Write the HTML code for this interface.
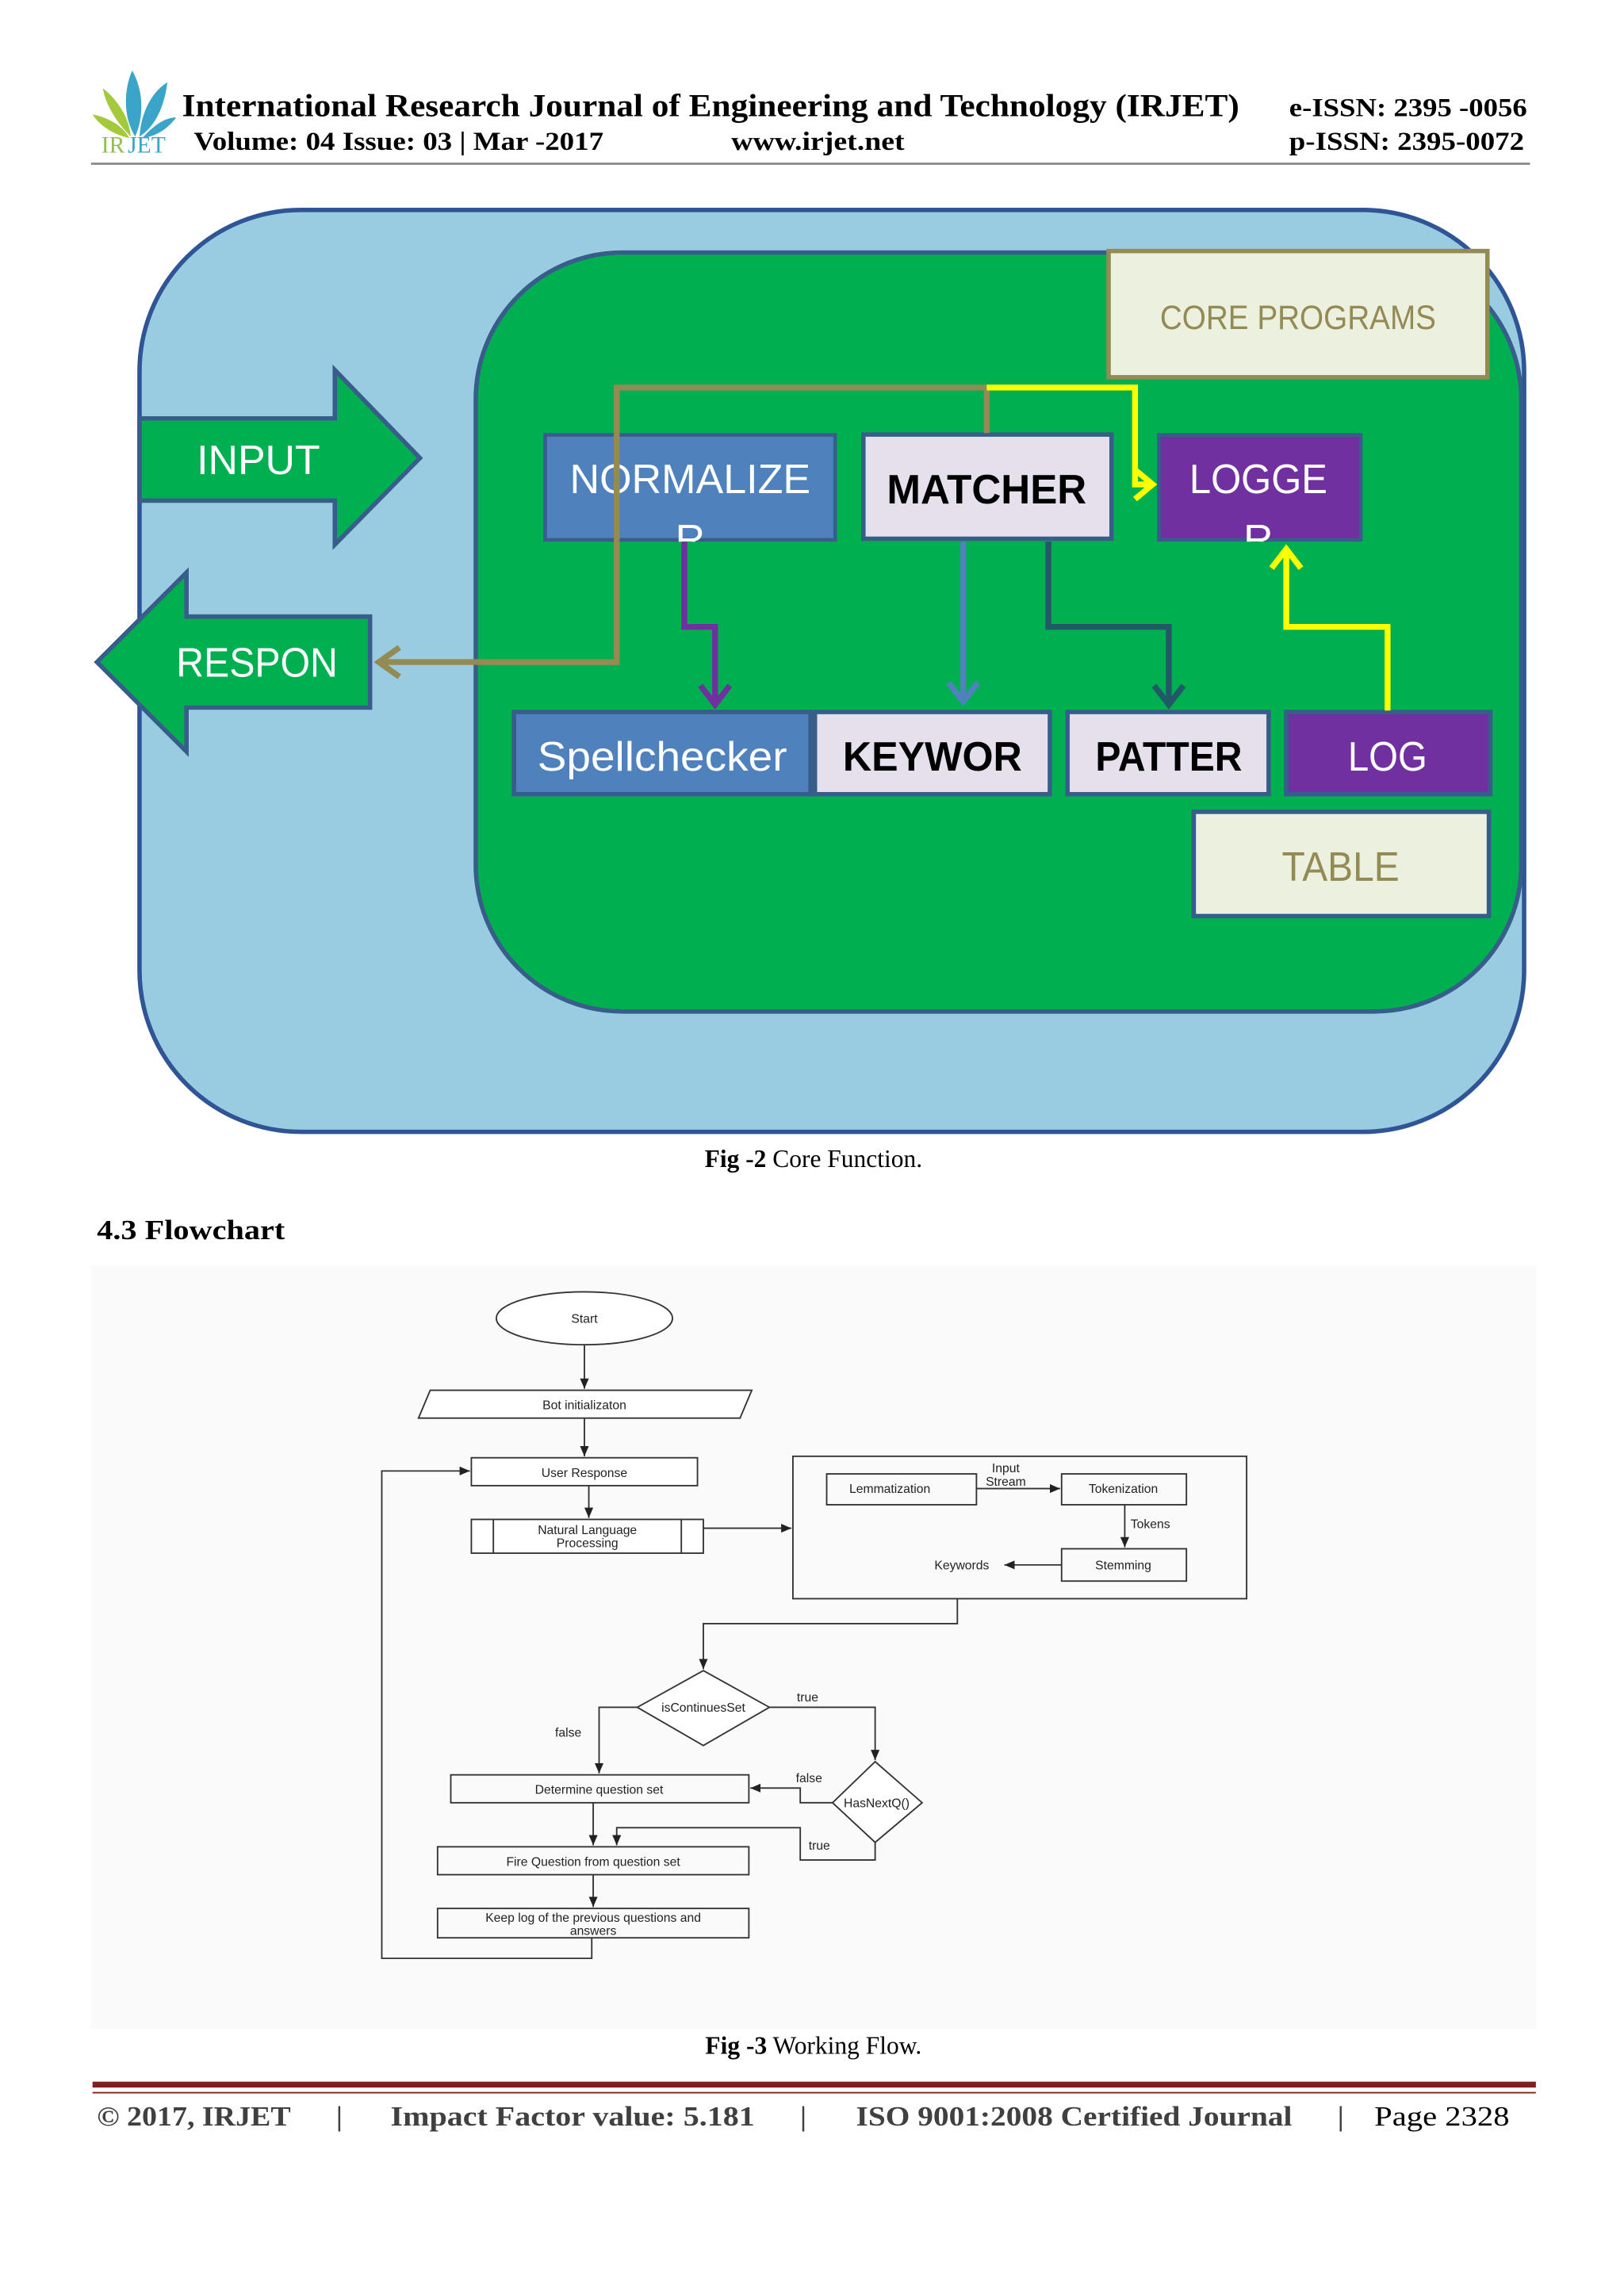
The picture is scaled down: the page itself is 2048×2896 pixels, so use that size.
<!DOCTYPE html>
<html><head><meta charset="utf-8"><style>
html,body{margin:0;padding:0;background:#fff}
svg{display:block}
.s{font-family:"Liberation Serif",serif}
.a{font-family:"Liberation Sans",sans-serif}
</style></head><body>
<svg width="2048" height="2896" viewBox="0 0 1106 1564" xmlns="http://www.w3.org/2000/svg">
<defs>
<marker id="fa" markerWidth="8" markerHeight="8" refX="7" refY="4" orient="auto" markerUnits="userSpaceOnUse"><path d="M0,1 L7,4 L0,7 z" fill="#222"/></marker>
</defs>
<rect width="1106" height="1564" fill="#fff"/>
<rect x="62" y="862" width="984" height="520" fill="#fafafa"/>
<!-- logo -->
<g>
<path d="M92,93 C84,80 84,62 90,48 C98,62 98,80 92,93z" fill="#3aa5c8"/>
<path d="M95,93 C96,76 104,62 114,56 C112,72 106,86 95,93z" fill="#3aa5c8"/>
<path d="M89,93 C80,84 72,72 70,60 C80,68 88,80 89,93z" fill="#a4c93c"/>
<path d="M88,94 C78,92 68,86 63,78 C74,80 84,86 88,94z" fill="#a4c93c"/>
<path d="M97,94 C104,86 112,80 120,80 C114,88 106,93 97,94z" fill="#3aa5c8"/>
<text x="69" y="104" class="s" font-size="16" fill="#8fc050">IR</text><text x="87" y="104" class="s" font-size="16" fill="#3aa5c8">JET</text>
</g>
<text x="124" y="79" class="s" font-size="21.5" font-weight="bold" textLength="720" lengthAdjust="spacingAndGlyphs">International Research Journal of Engineering and Technology (IRJET)</text>
<text x="132" y="102" class="s" font-size="17.5" font-weight="bold" textLength="279" lengthAdjust="spacingAndGlyphs">Volume: 04 Issue: 03 | Mar -2017</text>
<text x="498" y="102" class="s" font-size="17.5" font-weight="bold" textLength="118" lengthAdjust="spacingAndGlyphs">www.irjet.net</text>
<text x="878" y="79" class="s" font-size="17.5" font-weight="bold" textLength="162" lengthAdjust="spacingAndGlyphs">e-ISSN: 2395 -0056</text>
<text x="878" y="102" class="s" font-size="17.5" font-weight="bold" textLength="160" lengthAdjust="spacingAndGlyphs">p-ISSN: 2395-0072</text>
<line x1="62" y1="111.5" x2="1042" y2="111.5" stroke="#888" stroke-width="1.5"/>

<!-- Fig 2 -->
<rect x="95" y="143" width="943" height="628" rx="110" fill="#99cce0" stroke="#2f5597" stroke-width="3"/>
<rect x="324" y="172" width="712" height="517" rx="100" fill="#00b050" stroke="#385d8a" stroke-width="3"/>
<rect x="755" y="171" width="258" height="86" fill="#ebf1de" stroke="#948a54" stroke-width="3"/>
<text x="884" y="224" text-anchor="middle" class="a" font-size="23" fill="#948a54" textLength="188" lengthAdjust="spacingAndGlyphs">CORE PROGRAMS</text>
<polygon points="95,285 228,285 228,252 286,312 228,371 228,341 95,341" fill="#00b050" stroke="#385d8a" stroke-width="3"/>
<text x="176" y="323" text-anchor="middle" class="a" font-size="28" fill="#fff" textLength="84" lengthAdjust="spacingAndGlyphs">INPUT</text>
<polygon points="66,451 127,390 127,420 252,420 252,482 127,482 127,512" fill="#00b050" stroke="#385d8a" stroke-width="3"/>
<text x="175" y="461" text-anchor="middle" class="a" font-size="28" fill="#fff" textLength="110" lengthAdjust="spacingAndGlyphs">RESPON</text>
<svg x="370" y="295" width="200" height="74" overflow="hidden"><rect x="1" y="1" width="198" height="72" fill="#4f81bd" stroke="#385d8a" stroke-width="3"/>
<text x="100" y="41" text-anchor="middle" class="a" font-size="28" fill="#fff" textLength="164" lengthAdjust="spacingAndGlyphs">NORMALIZE</text><text x="100" y="82" text-anchor="middle" class="a" font-size="28" fill="#fff">R</text></svg>
<rect x="588" y="296" width="169" height="71" fill="#e6e0ec" stroke="#385d8a" stroke-width="3"/>
<text x="672" y="343" text-anchor="middle" class="a" font-size="28" font-weight="bold" fill="#000" textLength="136" lengthAdjust="spacingAndGlyphs">MATCHER</text>
<svg x="788" y="295" width="140" height="74" overflow="hidden"><rect x="1" y="1" width="138" height="72" fill="#7030a0" stroke="#385d8a" stroke-width="3"/>
<text x="69" y="41" text-anchor="middle" class="a" font-size="28" fill="#fff" textLength="94" lengthAdjust="spacingAndGlyphs">LOGGE</text><text x="69" y="82" text-anchor="middle" class="a" font-size="28" fill="#fff">R</text></svg>
<rect x="350" y="485" width="202" height="56" fill="#4f81bd" stroke="#385d8a" stroke-width="3"/>
<text x="451" y="525" text-anchor="middle" class="a" font-size="28" fill="#fff" textLength="170" lengthAdjust="spacingAndGlyphs">Spellchecker</text>
<rect x="555" y="485" width="160" height="56" fill="#e6e0ec" stroke="#385d8a" stroke-width="3"/>
<text x="635" y="525" text-anchor="middle" class="a" font-size="28" font-weight="bold" textLength="122" lengthAdjust="spacingAndGlyphs">KEYWOR</text>
<rect x="727" y="485" width="137" height="56" fill="#e6e0ec" stroke="#385d8a" stroke-width="3"/>
<text x="796" y="525" text-anchor="middle" class="a" font-size="28" font-weight="bold" textLength="100" lengthAdjust="spacingAndGlyphs">PATTER</text>
<rect x="876" y="485" width="139" height="56" fill="#7030a0" stroke="#385d8a" stroke-width="3"/>
<text x="945" y="525" text-anchor="middle" class="a" font-size="28" fill="#fff" textLength="54" lengthAdjust="spacingAndGlyphs">LOG</text>
<rect x="813" y="553" width="201" height="71" fill="#ebf1de" stroke="#385d8a" stroke-width="3"/>
<text x="913" y="600" text-anchor="middle" class="a" font-size="28" fill="#948a54" textLength="80" lengthAdjust="spacingAndGlyphs">TABLE</text>
<!-- connectors -->
<polyline points="672,295 672,264 420,264 420,451 258,451" fill="none" stroke="#948a54" stroke-width="4"/>
<polyline points="272,441 258,451 272,461" fill="none" stroke="#948a54" stroke-width="4"/>
<polyline points="672,264 773,264 773,330 784,330" fill="none" stroke="#ffff00" stroke-width="4"/>
<polyline points="773,320 785,330 773,340" fill="none" stroke="#ffff00" stroke-width="4"/>
<polyline points="466,369 466,427 487,427 487,480" fill="none" stroke="#7030a0" stroke-width="4"/>
<polyline points="477,467 487,480 497,467" fill="none" stroke="#7030a0" stroke-width="4"/>
<line x1="656" y1="369" x2="656" y2="478" stroke="#4f81bd" stroke-width="4"/>
<polyline points="646,465 656,478 666,465" fill="none" stroke="#4f81bd" stroke-width="4"/>
<polyline points="714,369 714,427 796,427 796,480" fill="none" stroke="#215968" stroke-width="4"/>
<polyline points="786,467 796,480 806,467" fill="none" stroke="#215968" stroke-width="4"/>
<polyline points="945,484 945,427 876,427 876,374" fill="none" stroke="#ffff00" stroke-width="4"/>
<polyline points="866,387 876,374 886,387" fill="none" stroke="#ffff00" stroke-width="4"/>
<text x="554" y="795" text-anchor="middle" class="s" font-size="17"><tspan font-weight="bold">Fig -2</tspan> Core Function.</text>
<text x="66" y="844" class="s" font-size="19" font-weight="bold" textLength="128" lengthAdjust="spacingAndGlyphs">4.3 Flowchart</text>

<!-- flowchart -->
<g class="a" font-size="8.5" fill="#222" stroke-width="1">
<g fill="none" stroke="#333">
<ellipse cx="398" cy="898" rx="60" ry="18" fill="#fff"/>
<polygon points="293,947 512,947 504,966 285,966" fill="#fff"/>
<rect x="321" y="993" width="154" height="19" fill="#fff"/>
<rect x="321" y="1035" width="158" height="23" fill="#fff"/>
<line x1="336" y1="1035" x2="336" y2="1058"/><line x1="464" y1="1035" x2="464" y2="1058"/>
<rect x="540" y="992" width="309" height="97"/>
<rect x="563" y="1004" width="102" height="21"/>
<rect x="723" y="1004" width="85" height="21"/>
<rect x="723" y="1055" width="85" height="22"/>
<polygon points="479,1138 524,1163 479,1189 434,1163" fill="#fff"/>
<polygon points="596,1200 628,1228 596,1255 567,1228" fill="#fff"/>
<rect x="307" y="1209" width="203" height="19"/>
<rect x="298" y="1258" width="212" height="19"/>
<rect x="298" y="1300" width="212" height="20"/>
<line x1="398" y1="916" x2="398" y2="946" marker-end="url(#fa)"/>
<line x1="398" y1="966" x2="398" y2="992" marker-end="url(#fa)"/>
<line x1="401" y1="1012" x2="401" y2="1034" marker-end="url(#fa)"/>
<line x1="479" y1="1041" x2="539" y2="1041" marker-end="url(#fa)"/>
<line x1="665" y1="1014" x2="722" y2="1014" marker-end="url(#fa)"/>
<line x1="766" y1="1025" x2="766" y2="1054" marker-end="url(#fa)"/>
<line x1="723" y1="1066" x2="684" y2="1066" marker-end="url(#fa)"/>
<polyline points="652,1089 652,1106 479,1106 479,1137" marker-end="url(#fa)"/>
<polyline points="524,1163 596,1163 596,1199" marker-end="url(#fa)"/>
<polyline points="434,1163 408,1163 408,1208" marker-end="url(#fa)"/>
<polyline points="567,1228 545,1228 545,1218 511,1218" marker-end="url(#fa)"/>
<line x1="404" y1="1228" x2="404" y2="1257" marker-end="url(#fa)"/>
<polyline points="596,1255 596,1267 545,1267 545,1245 420,1245 420,1257" marker-end="url(#fa)"/>
<line x1="404" y1="1277" x2="404" y2="1299" marker-end="url(#fa)"/>
<polyline points="403,1320 403,1334 260,1334 260,1002 320,1002" marker-end="url(#fa)"/>
</g>
<text x="398" y="901" text-anchor="middle">Start</text>
<text x="398" y="960" text-anchor="middle">Bot initializaton</text>
<text x="398" y="1006" text-anchor="middle">User Response</text>
<text x="400" y="1045" text-anchor="middle">Natural Language</text>
<text x="400" y="1054" text-anchor="middle">Processing</text>
<text x="606" y="1017" text-anchor="middle">Lemmatization</text>
<text x="685" y="1003" text-anchor="middle">Input</text>
<text x="685" y="1012" text-anchor="middle">Stream</text>
<text x="765" y="1017" text-anchor="middle">Tokenization</text>
<text x="770" y="1041">Tokens</text>
<text x="765" y="1069" text-anchor="middle">Stemming</text>
<text x="655" y="1069" text-anchor="middle">Keywords</text>
<text x="479" y="1166" text-anchor="middle">isContinuesSet</text>
<text x="550" y="1159" text-anchor="middle">true</text>
<text x="387" y="1183" text-anchor="middle">false</text>
<text x="551" y="1214" text-anchor="middle">false</text>
<text x="597" y="1231" text-anchor="middle">HasNextQ()</text>
<text x="408" y="1222" text-anchor="middle">Determine question set</text>
<text x="558" y="1260" text-anchor="middle">true</text>
<text x="404" y="1271" text-anchor="middle">Fire Question from question set</text>
<text x="404" y="1309" text-anchor="middle">Keep log of the previous questions and</text>
<text x="404" y="1318" text-anchor="middle">answers</text>
</g>
<text x="554" y="1399" text-anchor="middle" class="s" font-size="17"><tspan font-weight="bold">Fig -3</tspan> Working Flow.</text>
<!-- footer -->
<rect x="63" y="1418" width="983" height="4" fill="#7f1f1f"/>
<line x1="63" y1="1425.5" x2="1046" y2="1425.5" stroke="#7f1f1f" stroke-width="1"/>
<text x="66" y="1448" class="s" font-size="19" font-weight="bold" fill="#404040" textLength="132" lengthAdjust="spacingAndGlyphs">© 2017, IRJET</text>
<text x="229" y="1448" class="s" font-size="19" font-weight="bold" fill="#404040">|</text>
<text x="266" y="1448" class="s" font-size="19" font-weight="bold" fill="#404040" textLength="248" lengthAdjust="spacingAndGlyphs">Impact Factor value: 5.181</text>
<text x="545" y="1448" class="s" font-size="19" font-weight="bold" fill="#404040">|</text>
<text x="583" y="1448" class="s" font-size="19" font-weight="bold" fill="#404040" textLength="297" lengthAdjust="spacingAndGlyphs">ISO 9001:2008 Certified Journal</text>
<text x="911" y="1448" class="s" font-size="19" font-weight="bold" fill="#404040">|</text>
<text x="936" y="1448" class="s" font-size="19" fill="#000" textLength="92" lengthAdjust="spacingAndGlyphs">Page 2328</text>
</svg>
</body></html>
